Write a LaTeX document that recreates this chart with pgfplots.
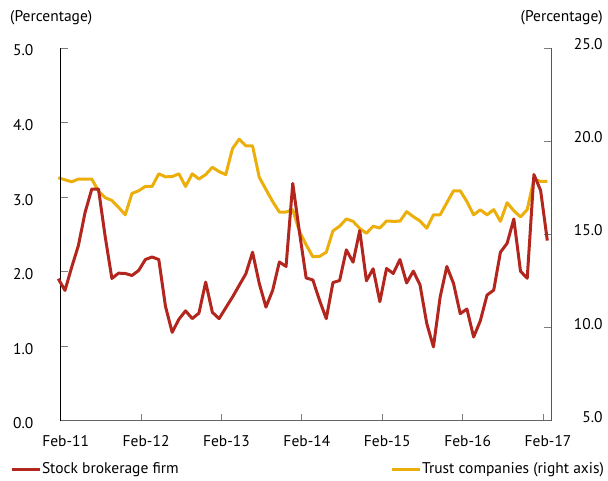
\documentclass[border=0pt]{standalone}
\usepackage{fontspec}
\setmainfont{PT Sans}
\usepackage{pgfplots}
\usepackage{pgfplotstable}
\pgfplotsset{compat=1.18}
\definecolor{redline}{RGB}{178,38,30}
\definecolor{yelline}{RGB}{236,174,10}
\definecolor{tickgray}{RGB}{125,125,125}

\pgfplotstableread{
i broker trust
0 1.905 18.04
1 1.749 17.93
2 2.060 17.82
3 2.350 17.97
4 2.795 17.97
5 3.108 17.97
6 3.108 17.32
7 2.471 16.97
8 1.909 16.82
9 1.980 16.45
10 1.976 16.05
11 1.949 17.20
12 2.016 17.34
13 2.163 17.58
14 2.197 17.57
15 2.163 18.25
16 1.535 18.09
17 1.187 18.10
18 1.361 18.25
19 1.475 17.57
20 1.370 18.25
21 1.445 17.97
22 1.860 18.21
23 1.455 18.60
24 1.370 18.37
25 1.515 18.21
26 1.659 19.60
27 1.816 20.11
28 1.972 19.75
29 2.261 19.75
30 1.842 18.07
31 1.525 17.41
32 1.749 16.76
33 2.130 16.20
34 2.070 16.20
35 3.183 16.32
36 2.531 15.16
37 1.916 14.44
38 1.889 13.80
39 1.615 13.82
40 1.370 14.04
41 1.853 15.19
42 1.882 15.44
43 2.293 15.83
44 2.127 15.70
45 2.551 15.32
46 1.878 15.06
47 2.039 15.44
48 1.598 15.34
49 2.043 15.72
50 1.976 15.70
51 2.163 15.71
52 1.849 16.22
53 2.007 15.95
54 1.822 15.72
55 1.307 15.33
56 0.991 16.05
57 1.659 16.05
58 2.070 16.70
59 1.842 17.34
60 1.437 17.34
61 1.499 16.76
62 1.124 16.05
63 1.341 16.32
64 1.686 16.05
65 1.753 16.33
66 2.261 15.70
67 2.381 16.70
68 2.707 16.27
69 2.005 15.94
70 1.912 16.33
71 3.303 17.97
72 3.090 17.84
73 2.417 17.84
}\datatable

\pgfplotsset{
  common/.style={
    at={(0,0)}, anchor=south west,
    width=490.3bp, height=372.8bp, scale only axis,
    xmin=0.36, xmax=73.55,
    clip=false,
    /pgf/number format/assume math mode=true,
    yticklabel style={/pgf/number format/fixed, /pgf/number format/fixed zerofill, /pgf/number format/precision=1},
    tick align=inside,
    major tick length=7bp,
    tick style={tickgray, line width=0.8bp},
    legend style={draw=none, fill=none, inner sep=0pt, outer sep=0pt,
      nodes={inner sep=1bp}},
    legend image code/.code={\draw[#1, line width=3bp] (0bp,0bp) -- (28bp,0bp);},
  }
}

\begin{document}
\fontsize{15.5bp}{18bp}\selectfont
\begin{tikzpicture}
\useasboundingbox (-60.7bp,-60.2bp) rectangle (547.3bp,420.8bp);
% right axis: trust companies
\begin{axis}[common,
  ymin=5, ymax=25,
  axis x line=none, axis y line*=right,
  axis line style={tickgray!70!black, line width=1bp},
  ytick={5,10,15,20,25},
  yticklabel style={anchor=east, xshift=57bp, yshift=4bp},
  legend style={at={(axis description cs:1.1101,-0.130)}, anchor=east},
]
\addplot[yelline, line width=3bp, line join=round] table[x=i, y=trust] {\datatable};
\addlegendentry{Trust companies (right axis)}
\end{axis}
% left axis: stock brokerage
\begin{axis}[common,
  ymin=0, ymax=5,
  axis x line*=bottom, axis y line*=left,
  axis line style={black, line width=1bp},
  x axis line style={tickgray!80!black},
  xtick={0.36,12.36,24.36,36.36,48.36,60.36,72.36},
  xticklabels={Feb-11,Feb-12,Feb-13,Feb-14,Feb-15,Feb-16,Feb-17},
  xticklabel style={yshift=-9bp, xshift=5bp},
  ytick={0,1,2,3,4,5},
  yticklabel style={xshift=-22bp, yshift=-2.5bp},
  legend style={at={(axis description cs:-0.1034,-0.130)}, anchor=west},
]
\addplot[redline, line width=3bp, line join=round] table[x=i, y=broker] {\datatable};
\addlegendentry{Stock brokerage firm}
\node[anchor=west, inner sep=0pt] at (axis description cs:-0.1034,1.0805) {(Percentage)};
\node[anchor=east, inner sep=0pt] at (axis description cs:1.106,1.0805) {(Percentage)};
\end{axis}
\end{tikzpicture}
\end{document}
